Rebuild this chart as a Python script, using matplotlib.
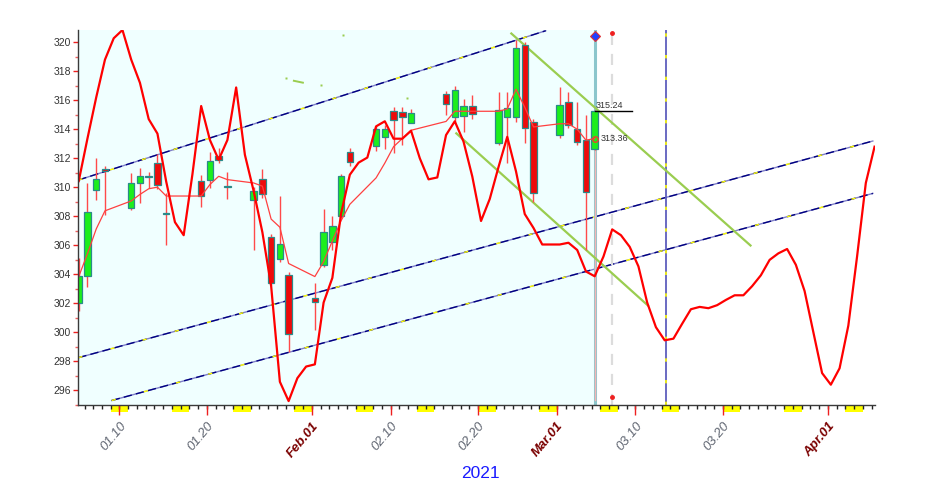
import matplotlib
matplotlib.use('Agg')
import matplotlib.pyplot as plt
from matplotlib.transforms import blended_transform_factory
from matplotlib.patches import Rectangle

plt.rcParams['font.family'] = ['Liberation Sans', 'DejaVu Sans']

# ---------------- data (x = day of year 2021) ----------------
candle_days = [5, 6, 7, 8, 11, 12, 13, 14, 15, 19, 20, 21, 22, 25, 26, 27, 28, 29,
               32, 33, 34, 35, 36, 39, 40, 41, 42, 43, 47, 48, 49, 50, 53, 54, 55, 56, 57,
               60, 61, 62, 63, 64]
opens = [302.06, 303.90, 309.84, 311.28, 308.60, 310.30, 310.68, 311.66, 308.17, 310.42,
         310.53, 312.18, 310.03, 309.12, 310.60, 306.61, 305.05, 303.96,
         302.38, 304.64, 306.22, 307.99, 312.42, 312.87, 313.44, 315.25, 315.18, 314.43,
         316.40, 314.82, 314.90, 315.63, 313.08, 314.84, 314.84, 319.82, 314.50,
         313.60, 315.86, 314.05, 313.26, 312.62]
highs = [305.10, 310.30, 312.00, 311.45, 311.00, 311.30, 311.06, 312.27, 309.60, 310.87,
         312.40, 312.68, 311.05, 310.00, 311.25, 306.75, 309.40, 304.14,
         303.40, 308.50, 308.00, 310.90, 312.68, 314.23, 314.28, 315.50, 315.50, 315.40,
         316.65, 317.00, 316.10, 316.36, 316.54, 316.54, 320.16, 319.98, 314.73,
         316.90, 316.54, 315.90, 314.95, 315.34]
lows = [301.50, 303.15, 309.10, 308.10, 308.45, 308.95, 309.98, 309.90, 306.05, 308.65,
        309.96, 311.66, 309.17, 305.66, 309.24, 303.30, 304.87, 298.67,
        300.20, 304.50, 305.70, 307.90, 311.50, 312.47, 312.65, 312.35, 312.90, 314.40,
        314.95, 314.50, 313.80, 314.68, 312.90, 311.67, 314.50, 313.03, 308.96,
        313.40, 314.10, 312.90, 305.68, 312.60]
closes = [303.90, 308.30, 310.57, 311.14, 310.30, 310.80, 310.70, 310.14, 308.13, 309.40,
          311.84, 311.89, 310.03, 309.74, 309.56, 303.40, 306.10, 299.90,
          302.13, 306.90, 307.33, 310.77, 311.74, 314.00, 314.00, 314.66, 314.84, 315.14,
          315.72, 316.70, 315.60, 315.07, 315.30, 315.45, 319.60, 314.10, 309.60,
          315.68, 314.32, 313.10, 309.70, 315.24]
ma_values = [303.85, 305.43, 307.13, 308.38, 309.06, 309.51, 309.90, 310.01, 309.40, 309.40,
             310.19, 310.76, 310.53, 310.30, 310.08, 307.81, 307.25, 304.75,
             303.85, 304.87, 306.30, 307.70, 308.83, 310.65, 311.67, 312.80, 313.36, 313.93,
             314.54, 315.24, 315.24, 315.24, 315.24, 315.40, 316.76, 315.52, 314.16,
             314.38, 314.38, 314.00, 313.25, 313.36]

proj_days = list(range(5, 97))
proj_values = [310.43, 313.37, 316.20, 318.80, 320.27, 320.84, 318.80, 317.20, 314.70, 313.70,
               310.40, 307.60, 306.70, 310.90, 315.60, 313.26, 311.90, 313.26, 316.88, 312.24,
               309.75, 306.90, 303.20, 296.60, 295.27, 296.85, 297.65, 297.80, 302.06, 303.76,
               308.20, 310.87, 311.70, 312.05, 314.20, 314.55, 313.35, 313.35, 313.90, 312.00,
               310.55, 310.68, 313.60, 314.55, 313.15, 310.75, 307.68, 309.20, 311.40, 313.48,
               311.10, 308.16, 307.20, 306.06, 306.06, 306.06, 306.18, 305.68, 304.20, 303.87,
               305.23, 307.10, 306.70, 305.90, 304.55, 302.06, 300.36, 299.46, 299.57, 300.60,
               301.60, 301.76, 301.67, 301.88, 302.24, 302.56, 302.56, 303.19, 303.94, 305.00,
               305.45, 305.75, 304.66, 302.85, 300.02, 297.20, 296.40, 297.53, 300.47, 305.23,
               310.30, 312.80]

# trend lines: (x0, y0, x1, y1)
channel_upper = (4.95, 310.50, 58.40, 320.79)
channel_mid = (4.95, 298.26, 95.80, 313.19)
channel_low = (8.77, 295.31, 95.80, 309.58)
green_upper = (54.37, 320.65, 81.91, 305.94)
green_lower = (48.08, 313.77, 70.17, 301.81)
green_dots_x = [28.69, 32.74, 35.17, 42.55]
green_dots_y = [317.51, 317.08, 320.52, 316.15]
green_dash = (29.6, 317.34, 30.63, 317.21)

today_day = 64
cursor_day = 66
proj_marker_day = 72.2
last_close = 315.24
last_ma = 313.36

label_days = [10, 20, 32, 41, 51, 60, 69, 79, 91]
label_texts = ['01.10', '01.20', 'Feb.01', '02.10', '02.20', 'Mar.01', '03.10', '03.20', 'Apr.01']
label_is_month = [False, False, True, False, False, True, False, False, True]
weekend_sats = [9, 16, 23, 30, 37, 44, 51, 58, 65, 72, 79, 86, 93]
year_label = '2021'
yticks_major = list(range(296, 321, 2))
yticks_minor = list(range(295, 321))

# ---------------- figure ----------------
W, H = 939, 503
fig = plt.figure(figsize=(W / 100, H / 100), dpi=100)
ax_l, ax_r, ax_t, ax_b = 78.3, 875, 30, 405
ax = fig.add_axes([ax_l / W, 1 - ax_b / H, (ax_r - ax_l) / W, (ax_b - ax_t) / H])
axh = ax_b - ax_t
XMIN, XMAX = 4.95, 96.05
YMIN, YMAX = 295.37, 320.84
ax.set_xlim(XMIN, XMAX)
ax.set_ylim(YMIN, YMAX)
ax.set_facecolor('white')
ax.axvspan(XMIN, today_day, color='#f0ffff', zorder=0, lw=0)

for s in ['top', 'right']:
    ax.spines[s].set_visible(False)
for s in ['left', 'bottom']:
    ax.spines[s].set_color('#3a3a3a')
    ax.spines[s].set_linewidth(1.0)
    ax.spines[s].set_zorder(6)


def styled_line(p, z=2):
    x0, y0, x1, y1 = p
    ax.plot([x0, x1], [y0, y1], color='#8080c8', lw=1.0, zorder=z)
    ax.plot([x0, x1], [y0, y1], color='#000080', lw=1.0, dashes=(6, 3), zorder=z)
    ax.plot([x0, x1], [y0, y1], color='#ffff00', lw=1.0, dashes=(3, 21), zorder=z)


styled_line(channel_upper)
styled_line(channel_mid)
styled_line(channel_low)

for p in (green_upper, green_lower):
    ax.plot([p[0], p[2]], [p[1], p[3]], color='#9acd50', lw=1.6, zorder=3,
            solid_capstyle='butt')
ax.plot(green_dots_x, green_dots_y, ls='none', marker='s', ms=1.5, color='#9acd50',
        mec='none', zorder=3)
ax.plot([green_dash[0], green_dash[2]], [green_dash[1], green_dash[3]], color='#9acd50',
        lw=1.4, zorder=3)

# vertical lines
ax.axvline(today_day, color='#8cc6cc', lw=2.2, zorder=2)
ax.plot([today_day, today_day], [YMIN, opens[-1]], color='#f4b4b4', lw=1.0, zorder=2)
ax.axvline(cursor_day, color='#dcdcdc', lw=1.6, dashes=(5, 4), zorder=2)
ax.plot([cursor_day, cursor_day], [320.63, 295.57], ls='none', marker='o', ms=2.5,
        color='#ee2020', zorder=7, clip_on=False)
ax.axvline(proj_marker_day, color='#5050b8', lw=1.2, zorder=2)
ax.axvline(proj_marker_day, color='#ffff00', lw=1.2, dashes=(2, 11), zorder=2)

# candles
body_w = 0.74
for d, o, h, l, c in zip(candle_days, opens, highs, lows, closes):
    ax.plot([d, d], [l, h], color='#ff4a4a', lw=1.0, zorder=4, solid_capstyle='butt')
    up = c >= o
    bottom = min(o, c)
    height = max(abs(c - o), 0.07)
    ax.bar(d, height, bottom=bottom, width=body_w, color='#1cee1c' if up else '#ee0a0a',
           edgecolor='#2a8a8a', linewidth=0.9, zorder=5)

# moving average & projection
ax.plot(candle_days, ma_values, color='#ff4040', lw=0.9, zorder=6)
ax.plot([candle_days[-1]], [ma_values[-1]], marker='o', ms=4, mfc='none', mec='#ff3030',
        mew=0.9, zorder=7)
ax.plot(proj_days, proj_values, color='#ff0000', lw=1.6, zorder=6)

# markers at the today line
ax.plot([today_day], [320.43], marker='D', ms=5.5, color='#1f3fff', mec='#e03030', mew=0.8,
        zorder=8, clip_on=False)

# value labels
ax.plot([today_day, 68.3], [last_close, last_close], color='black', lw=1.0, zorder=7)
ax.text(today_day + 0.1, last_close + 0.06, f'{last_close:.2f}', fontsize=6.5,
        color='#333333', ha='left', va='bottom', zorder=8)
ax.text(today_day + 0.65, last_ma, f'{last_ma:.2f}', fontsize=6.5, color='#333333',
        ha='left', va='center', zorder=8)

# y axis
ax.set_yticks(yticks_major)
ax.set_yticks([v for v in yticks_minor if v not in yticks_major], minor=True)
ax.tick_params(axis='y', which='major', length=3.5, width=1, color='#ee2020',
               labelsize=7.5, labelcolor='#333333', pad=2)
ax.tick_params(axis='y', which='minor', length=2.5, width=1, color='#ee6060')

# x axis (custom)
ax.set_xticks([])
trans = blended_transform_factory(ax.transData, ax.transAxes)
px = 1.0 / axh
for s in weekend_sats:
    ax.add_patch(Rectangle((s - 0.34, -7 * px), 2.0, 7 * px, transform=trans,
                           facecolor='#ffff00', edgecolor='none', clip_on=False, zorder=1))
minor_x = [d - 0.34 for d in range(5, 98) if XMIN <= d - 0.34 <= XMAX]
ax.vlines(minor_x, -4 * px, 0, transform=trans, colors='#222222', lw=1.0, clip_on=False,
          zorder=2)
ax.vlines([d - 0.34 for d in label_days], -10 * px, 0, transform=trans, colors='#ee2020',
          lw=1.0, clip_on=False, zorder=3)
for d, t, m in zip(label_days, label_texts, label_is_month):
    ax.text(d - 0.34, -15 * px, t, transform=trans, rotation=50, ha='right', va='top',
            rotation_mode='anchor', fontsize=9.5, style='italic',
            fontweight='bold' if m else 'normal',
            color='#7a0000' if m else '#5e6470')

fig.text(480.8 / W, 1 - 474 / H, year_label, ha='center', va='center', fontsize=12.5,
         color='#1a1aff')

fig.savefig('out.png', dpi=100)
